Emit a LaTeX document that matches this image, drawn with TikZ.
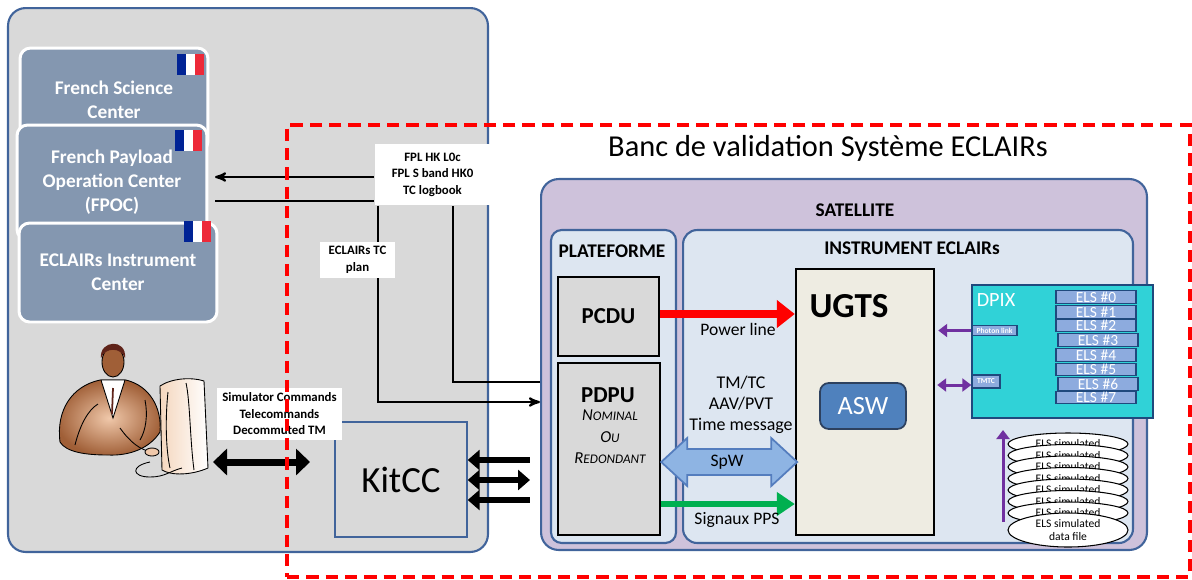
\documentclass[tikz,border=0pt]{standalone}
\usepackage{fontspec}
\setmainfont{Carlito}
\usepackage{tikz}
\usetikzlibrary{arrows,arrows.meta,shapes.geometric}
\definecolor{ground_gray}{RGB}{217,217,217}
\definecolor{frame_blue}{RGB}{65,100,155}
\definecolor{center_blue}{RGB}{132,151,176}
\definecolor{sat_purple}{RGB}{206,194,219}
\definecolor{inst_blue}{RGB}{221,230,241}
\definecolor{ugts_beige}{RGB}{238,236,226}
\definecolor{asw_blue}{RGB}{79,129,189}
\definecolor{asw_edge}{RGB}{45,65,95}
\definecolor{dpix_cyan}{RGB}{48,210,215}
\definecolor{els_blue}{RGB}{141,171,222}
\definecolor{els_edge}{RGB}{31,73,125}
\definecolor{link_purple}{RGB}{112,48,160}
\definecolor{pps_green}{RGB}{0,176,80}
\definecolor{spw_blue}{RGB}{142,180,227}
\definecolor{spw_edge}{RGB}{84,125,190}
\definecolor{flag_blue}{RGB}{0,35,149}
\definecolor{flag_red}{RGB}{237,41,57}
\definecolor{skin_dark}{RGB}{160,95,55}
\definecolor{skin_light}{RGB}{240,200,170}
\definecolor{hair_brown}{RGB}{95,35,25}
\definecolor{screen_beige}{RGB}{245,215,190}

% small tricolour, top left corner given
\newcommand{\frflag}[1]{%
  \fill[flag_blue] (#1) rectangle ++(9,21);
  \fill[white] ([xshift=0.18cm]#1) rectangle ++(9,21);
  \fill[flag_red] ([xshift=0.36cm]#1) rectangle ++(9,21);}

\begin{document}
\begin{tikzpicture}[x=0.02cm,y=-0.02cm,semithick,>=stealth']
    \tikzstyle{frame}=[draw=frame_blue, line width=1.2pt, rounded corners=10pt, inner sep=0pt]
    \tikzstyle{centerbox}=[draw=white, line width=1.7pt, rounded corners=6pt, fill=center_blue, text=white, align=center, inner sep=0pt, font=\fontsize{11}{13.6}\selectfont\bfseries]
    \tikzstyle{unit}=[draw=black, line width=1.4pt, inner sep=0pt]
    \tikzstyle{lblbox}=[fill=white, align=center, inner sep=0pt, font=\fontsize{7.3}{9.4}\selectfont\bfseries]
    \tikzstyle{boxtitle}=[font=\fontsize{11}{13}\selectfont\bfseries]
    \tikzstyle{plain}=[align=center, font=\fontsize{10}{12}\selectfont]
    \tikzstyle{flow}=[line width=1.2pt]
    \tikzstyle{kitarrow}=[line width=0.12cm, >={Triangle[length=0.24cm,width=0.4cm]}]
    \tikzstyle{linkarrow}=[link_purple, line width=0.06cm, >={Triangle[length=0.18cm,width=0.26cm]}]
    \tikzstyle{elsbox}=[draw=els_edge, line width=0.8pt, fill=els_blue, text=white, minimum width=1.6cm, minimum height=0.25cm, inner sep=0pt, font=\fontsize{8.8}{8.8}\selectfont]
    \tikzstyle{simfile}=[ellipse, draw=black, fill=white, line width=0.6pt, minimum width=2.4cm, minimum height=0.44cm, inner sep=0pt, font=\fontsize{6.6}{7.6}\selectfont]

    \useasboundingbox (0,0) rectangle (1192,579);

    % ground segment
    \node[frame, fill=ground_gray, minimum width=9.6cm, minimum height=10.88cm] (ground) at (248,280) {};
    \node[centerbox, minimum width=3.76cm, minimum height=2.08cm] (fsc) at (114,100) {French Science\\Center};
    \frflag{177,54}
    \node[centerbox, minimum width=3.8cm, minimum height=2.3cm] (fpoc) at (112,182.5) {French Payload\\Operation Center\\(FPOC)};
    \frflag{175,130}
    \node[centerbox, minimum width=3.96cm, minimum height=1.98cm] (eic) at (118,272.5) {ECLAIRs Instrument\\Center};
    \frflag{184,221}

    % operator at his desk
    \begin{scope}[line width=0.5pt]
      \shadedraw[left color=screen_beige, right color=white, draw=black] (160,386) .. controls (172,378) and (192,377) .. (204,381) -- (208,468) .. controls (192,475) and (172,476) .. (162,470) -- cycle;
      \draw (168,392) .. controls (165,420) and (166,450) .. (170,468);
      \draw (186,383) .. controls (190,400) and (190,440) .. (194,470);
      \shadedraw[inner color=skin_light, outer color=skin_dark, draw=black] (60,442) .. controls (56,410) and (72,386) .. (100,380) -- (126,380) .. controls (150,386) and (162,408) .. (160,432) .. controls (150,448) and (130,456) .. (108,455) .. controls (85,455) and (66,452) .. (60,442) -- cycle;
      \draw (75,445) .. controls (80,425) and (88,410) .. (98,404);
      \draw (145,400) .. controls (148,415) and (146,430) .. (140,440);
      \filldraw[fill=white, draw=black] (101,380) -- (113,418) -- (125,380) -- cycle;
      \draw[line width=1pt, hair_brown] (113,388) -- (112,414);
      \filldraw[fill=skin_dark, draw=black] (113,362) ellipse (11 and 15);
      \fill[hair_brown] (101,358) .. controls (99,340) and (127,338) .. (125,358) .. controls (121,347) and (105,347) .. (101,358) -- cycle;
      \draw (120,428) .. controls (130,442) and (140,450) .. (152,452);
      \filldraw[fill=skin_light, draw=black] (152,452) ellipse (7 and 4);
      \draw (150,462) .. controls (130,466) and (132,477) .. (150,477) .. controls (165,477) and (170,471) .. (182,468);
    \end{scope}

    \node[frame, rounded corners=0pt, line width=0.8pt, minimum width=2.64cm, minimum height=2.3cm, font=\fontsize{21}{23}\selectfont] (kit) at (401,479.5) {KitCC};

    % satellite
    \node[frame, fill=sat_purple, minimum width=12.12cm, minimum height=7.42cm] (sat) at (844,364.5) {};
    \node[boxtitle] (satlbl) at (855,210) {SATELLITE};
    \node[frame, rounded corners=6pt, fill=inst_blue, minimum width=2.5cm, minimum height=6.26cm] (pf) at (613.5,386.5) {};
    \node[boxtitle] (pflbl) at (612,251) {PLATEFORME};
    \node[frame, rounded corners=8pt, fill=inst_blue, minimum width=9cm, minimum height=6.26cm] (inst) at (908,386.5) {};
    \node[boxtitle] (instlbl) at (912,248) {INSTRUMENT ECLAIRs};

    \node[unit, fill=ground_gray, minimum width=2.02cm, minimum height=1.58cm, font=\fontsize{13}{15}\selectfont\bfseries] (pcdu) at (608.5,316.5) {PCDU};
    \node[unit, fill=ground_gray, minimum width=2.04cm, minimum height=3.44cm] (pdpu) at (609,449) {};
    \node[font=\fontsize{13}{15}\selectfont\bfseries] (pdpulbl) at (608,395) {PDPU};
    \node[align=center, font=\fontsize{9.5}{12.2}\selectfont\itshape] (pdpumode) at (610,437) {N{\fontsize{7.5}{9}\selectfont OMINAL}\\O{\fontsize{7.5}{9}\selectfont U}\\R{\fontsize{7.5}{9}\selectfont EDONDANT}};

    \node[unit, fill=ugts_beige, minimum width=2.76cm, minimum height=5.32cm] (ugts) at (865,402) {};
    \node[font=\fontsize{20}{22}\selectfont\bfseries] (ugtslbl) at (849,306) {UGTS};
    \node[draw=asw_edge, line width=1pt, fill=asw_blue, rounded corners=5pt, text=white, minimum width=1.72cm, minimum height=0.92cm, font=\fontsize{15}{17}\selectfont] (asw) at (863,406) {ASW};

    % detector electronics
    \node[draw=els_edge, line width=0.8pt, fill=dpix_cyan, minimum width=3.62cm, minimum height=2.66cm] (dpix) at (1062.5,351.5) {};
    \node[text=white, font=\fontsize{11.5}{13}\selectfont] (dpixlbl) at (996,300) {DPIX};
    \foreach \y/\n/\dx in {297/0/0, 312/1/0, 325.5/2/0, 340/3/2, 355/4/0, 369.5/5/0, 384/6/2, 397.5/7/0}
      \node[elsbox] (els\n) at ({1096+\dx},\y) {ELS \#\n};
    \node[elsbox, minimum width=0.9cm, minimum height=0.2cm, font=\fontsize{4.3}{5}\selectfont\bfseries] (photon) at (994.5,330.5) {Photon link};
    \node[elsbox, minimum width=0.56cm, minimum height=0.26cm, font=\fontsize{4.3}{5}\selectfont\bfseries] (tmtc) at (986,381.5) {TMTC};

    % science and housekeeping flows
    \node[lblbox, minimum width=2.3cm, minimum height=1.22cm] (fpl) at (432.5,174.5) {FPL HK L0c\\FPL S band HK0\\TC logbook};
    \coordinate (hkin) at (215,177);
    \coordinate (tcout) at (215,201);
    \draw[flow,<-] (hkin) -- (hkin -| fpl.west);
    \draw[flow] (tcout) -- (tcout -| fpl.west);
    \draw[flow,->] (fpl.south -| 378,0) |- (sat.west |- 0,402);
    \draw[flow] (sat.west |- 0,382) -| (fpl.south -| 453,0);
    \node[lblbox, minimum width=1.5cm, minimum height=0.72cm] (tcplan) at (357.5,260) {ECLAIRs TC\\plan};

    % operator to KitCC
    \node[lblbox, minimum width=2.5cm, minimum height=1.04cm] (simcmd) at (279.5,414) {Simulator Commands\\Telecommands\\Decommuted TM};
    \coordinate (opdesk) at (213,462);
    \draw[line width=0.14cm, {Triangle[length=0.28cm,width=0.52cm]}-{Triangle[length=0.28cm,width=0.52cm]}] (opdesk) -- ++(97,0);

    \coordinate (kitlink) at (530,480);
    \draw[kitarrow,<-] (kit.east |- 0,460) -- (kitlink |- 0,460);
    \draw[kitarrow,<->] (kit.east |- kitlink) -- (kitlink);
    \draw[kitarrow,<-] (kit.east |- 0,500) -- (kitlink |- 0,500);

    % links inside the satellite
    \draw[red, line width=0.16cm, -{Triangle[length=0.36cm,width=0.54cm]}] (pcdu.east |- 0,314) -- (ugts.west |- 0,314);
    \node[plain] (powerlbl) at (738,329) {Power line};
    \node[plain, font=\fontsize{10.2}{12}\selectfont] (tmtclbl) at (741,405) {TM/TC\\AAV/PVT\\Time message};
    \coordinate (spwl) at (pdpu.east |- 0,462);
    \filldraw[fill=spw_blue, draw=spw_edge, line width=1pt] (spwl) -- ++(26,-24) -- ++(0,11) -- ++(84,0) -- ++(0,-11) -- ++(26,24) -- ++(-26,24) -- ++(0,-11) -- ++(-84,0) -- ++(0,11) -- cycle;
    \node[plain] (spwlbl) at (727,462) {SpW};
    \draw[pps_green, line width=0.12cm, -{Triangle[length=0.36cm,width=0.46cm]}] (pdpu.east |- 0,504) -- (ugts.west |- 0,504);
    \node[plain] (ppslbl) at (737,520) {Signaux PPS};

    \draw[linkarrow,->] (photon.west) -- ([xshift=0.06cm]ugts.east |- photon);
    \draw[linkarrow,<->] (tmtc.west |- 0,385) -- ([xshift=0.04cm]ugts.east |- 0,385);

    % simulated data files
    \foreach \i in {0,...,6}
      \node[simfile] (sim\i) at (1068,{444+11.5*\i}) {ELS simulated};
    \node[simfile, minimum height=0.68cm, align=center] (simlast) at (1068,530) {ELS simulated\\data file};
    \coordinate (datain) at (1003,522);
    \draw[linkarrow,->] (datain) -- (datain |- 0,430);

    % validation bench
    \node[draw=red, line width=2pt, dash pattern=on 7pt off 4pt, minimum width=18.06cm, minimum height=9.04cm, inner sep=0pt] (bench) at (738.5,351) {};
    \node[font=\fontsize{17.3}{19}\selectfont] (benchlbl) at (828,148) {Banc de validation Système ECLAIRs};
\end{tikzpicture}
\end{document}
